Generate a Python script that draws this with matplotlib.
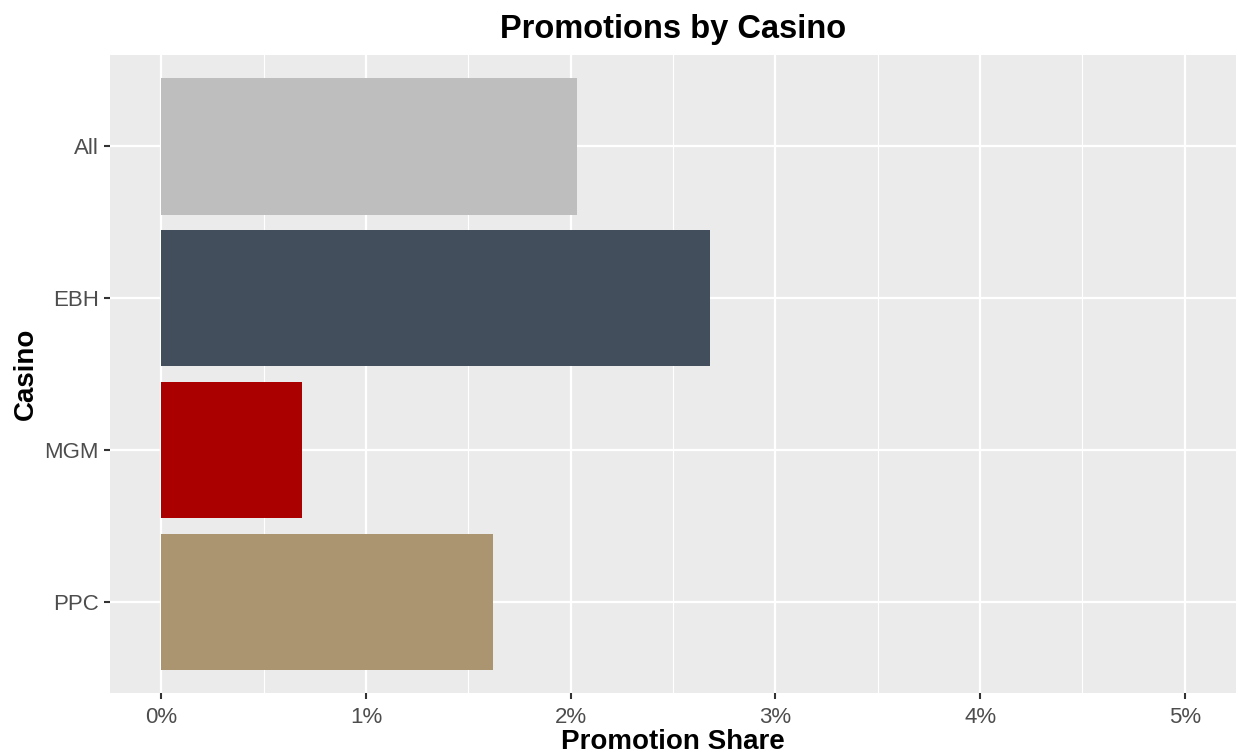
import matplotlib.pyplot as plt
from matplotlib.ticker import FuncFormatter, MultipleLocator

plt.rcParams['font.family'] = ['Liberation Sans', 'DejaVu Sans']

casinos = ['All', 'EBH', 'MGM', 'PPC']
share = [2.03, 2.68, 0.69, 1.62]  # percent
colors = ['#BEBEBE', '#424E5C', '#AA0000', '#AB9470']

fig = plt.figure(figsize=(12.38, 7.56), dpi=100)
ax = fig.add_axes([0.0889, 0.0833, 0.9095, 0.8439])
ax.set_facecolor('#EBEBEB')

ypos = list(range(len(casinos)))
ax.barh(ypos, share, height=0.9, color=colors, zorder=3)

ax.set_xlim(-0.25, 5.25)
ax.set_ylim(len(casinos) - 0.4, -0.6)
ax.set_yticks(ypos)
ax.set_yticklabels(casinos)
ax.xaxis.set_major_locator(MultipleLocator(1))
ax.xaxis.set_minor_locator(MultipleLocator(0.5))
ax.xaxis.set_major_formatter(FuncFormatter(lambda v, p: f'{v:.0f}%'))

ax.grid(which='major', color='white', linewidth=1.6, zorder=0)
ax.grid(which='minor', axis='x', color='white', linewidth=0.8, zorder=0)
ax.set_axisbelow(True)
for s in ax.spines.values():
    s.set_visible(False)

ax.tick_params(which='major', length=4, width=1.5, color='#333333',
               labelsize=16, labelcolor='#4D4D4D', pad=4)
ax.tick_params(axis='x', pad=6)
ax.tick_params(which='minor', length=0)

ax.set_title('Promotions by Casino', fontsize=23.5, fontweight='bold', pad=12)
ax.set_xlabel('Promotion Share', fontsize=20, fontweight='bold', labelpad=1)
ax.set_ylabel('Casino', fontsize=20, fontweight='bold', labelpad=4)

fig.savefig('out.png', dpi=100)
